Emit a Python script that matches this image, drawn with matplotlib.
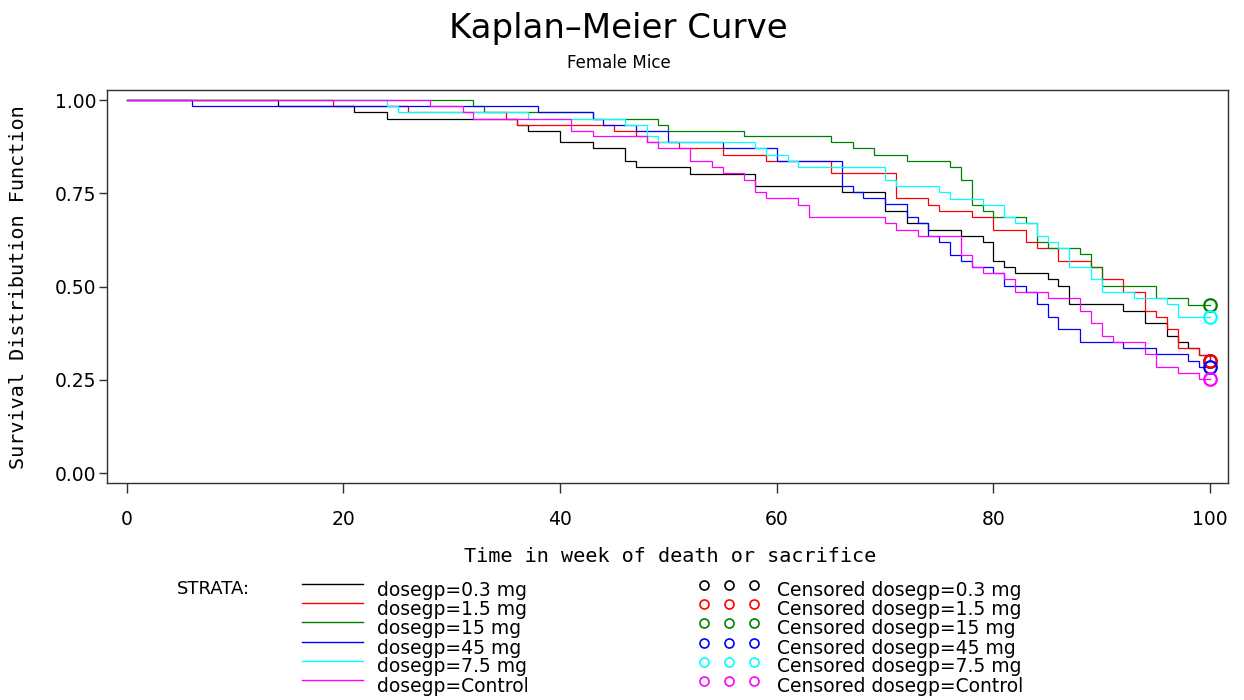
import matplotlib
matplotlib.use("Agg")
import matplotlib.pyplot as plt
from matplotlib.lines import Line2D

# ---------------- data ----------------
groups = ["dosegp=0.3 mg", "dosegp=1.5 mg", "dosegp=15 mg",
          "dosegp=45 mg", "dosegp=7.5 mg", "dosegp=Control"]
colors = ["#000000", "#ff0000", "#008000", "#0000ff", "#00ffff", "#ff00ff"]

t_03 = [0, 14, 21, 24, 36, 37, 40, 43, 46, 47, 52, 58, 66, 70, 72, 74, 77, 79,
        80, 81, 82, 85, 86, 87, 92, 94, 96, 97, 98, 99, 100]
s_03 = [1.0, 0.984, 0.967, 0.950, 0.934, 0.917, 0.887, 0.871, 0.837, 0.820,
        0.803, 0.770, 0.753, 0.703, 0.670, 0.653, 0.636, 0.620, 0.570, 0.553,
        0.536, 0.520, 0.503, 0.453, 0.436, 0.403, 0.369, 0.353, 0.335, 0.317,
        0.300]

t_15 = [0, 19, 26, 35, 36, 45, 47, 48, 51, 55, 59, 65, 71, 74, 75, 78, 80, 83,
        84, 86, 89, 90, 92, 94, 95, 96, 97, 99, 100]
s_15 = [1.0, 0.984, 0.967, 0.950, 0.934, 0.917, 0.904, 0.887, 0.871, 0.853,
        0.837, 0.804, 0.737, 0.720, 0.703, 0.687, 0.653, 0.620, 0.603, 0.570,
        0.553, 0.520, 0.487, 0.436, 0.420, 0.386, 0.335, 0.317, 0.300]

t_150 = [0, 32, 33, 43, 49, 50, 57, 65, 67, 69, 72, 76, 77, 78, 79, 80, 83, 84,
         85, 88, 89, 90, 95, 98, 100]
s_150 = [1.0, 0.984, 0.967, 0.950, 0.934, 0.917, 0.904, 0.887, 0.871, 0.853,
         0.837, 0.820, 0.786, 0.719, 0.703, 0.687, 0.670, 0.619, 0.603, 0.587,
         0.552, 0.503, 0.469, 0.451, 0.451]

t_45 = [0, 6, 38, 43, 44, 47, 50, 55, 60, 66, 67, 68, 70, 72, 73, 74, 75, 76,
        77, 78, 80, 81, 83, 84, 85, 86, 88, 92, 95, 98, 99, 100]
s_45 = [1.0, 0.984, 0.967, 0.950, 0.934, 0.917, 0.887, 0.871, 0.837, 0.770,
        0.753, 0.737, 0.721, 0.687, 0.670, 0.636, 0.620, 0.586, 0.570, 0.553,
        0.536, 0.503, 0.487, 0.453, 0.420, 0.386, 0.353, 0.335, 0.319, 0.302,
        0.284, 0.284]

t_75 = [0, 24, 25, 37, 46, 48, 49, 58, 59, 61, 62, 70, 71, 75, 76, 79, 81, 82,
        84, 85, 86, 87, 89, 90, 93, 96, 97, 100]
s_75 = [1.0, 0.984, 0.967, 0.950, 0.934, 0.904, 0.887, 0.871, 0.853, 0.837,
        0.820, 0.787, 0.770, 0.753, 0.736, 0.720, 0.687, 0.670, 0.636, 0.619,
        0.603, 0.552, 0.520, 0.487, 0.469, 0.453, 0.418, 0.418]

t_ctl = [0, 28, 31, 32, 41, 43, 48, 49, 52, 54, 55, 57, 58, 59, 62, 63, 70, 71,
         73, 77, 78, 79, 81, 82, 85, 88, 89, 90, 91, 94, 95, 97, 99, 100]
s_ctl = [1.0, 0.984, 0.967, 0.950, 0.917, 0.904, 0.887, 0.871, 0.837, 0.820,
         0.804, 0.786, 0.753, 0.737, 0.720, 0.686, 0.670, 0.653, 0.636, 0.586,
         0.553, 0.536, 0.520, 0.487, 0.469, 0.436, 0.403, 0.369, 0.353, 0.319,
         0.286, 0.269, 0.252, 0.252]

times = [t_03, t_15, t_150, t_45, t_75, t_ctl]
survs = [s_03, s_15, s_150, s_45, s_75, s_ctl]
censor_time = 100

x_ticks = [0, 20, 40, 60, 80, 100]
y_ticks = [0.0, 0.25, 0.50, 0.75, 1.00]
y_ticklabels = ["0.00", "0.25", "0.50", "0.75", "1.00"]

# ---------------- figure ----------------
W, H = 1244, 700
fig = plt.figure(figsize=(W / 100, H / 100), dpi=100)
fig.patch.set_facecolor("white")


def fx(px):
    return px / W


def fy(py):
    return 1 - py / H


ax = fig.add_axes([fx(106.7), fy(483.3), fx(1228) - fx(106.7), fy(90) - fy(483.3)])
ax.set_xlim(-1.85, 101.66)
ax.set_ylim(-0.0268, 1.0268)

for t, s, c in zip(times, survs, colors):
    ax.step(t, s, where="post", color=c, lw=0.9, solid_joinstyle="miter")
for s, c in zip(survs, colors):
    ax.plot([censor_time], [s[-1]], marker="o", ms=9, mfc="none", mec=c, mew=1.6,
            ls="none", clip_on=False)

for sp in ax.spines.values():
    sp.set_color("#303030")
    sp.set_linewidth(1.0)

ax.set_xticks(x_ticks)
ax.set_xticklabels([str(v) for v in x_ticks])
ax.set_yticks(y_ticks)
ax.set_yticklabels(y_ticklabels)
ax.tick_params(axis="x", direction="out", length=7, width=1, color="#303030",
               pad=12.5, labelsize=13.5)
ax.tick_params(axis="y", direction="out", length=6, width=1, color="#303030",
               pad=1.5, labelsize=13.5)
for lab in ax.get_xticklabels() + ax.get_yticklabels():
    lab.set_family("DejaVu Sans")

# titles
fig.text(fx(618), fy(38), "Kaplan–Meier Curve", ha="center", va="baseline",
         fontsize=24.5, family="DejaVu Sans")
fig.text(fx(619), fy(68.5), "Female Mice", ha="center", va="baseline",
         fontsize=12, family="DejaVu Sans")

# axis labels
fig.text(fx(670), fy(556), "Time in week of death or sacrifice", ha="center",
         va="center", fontsize=14.5, family="DejaVu Sans Mono")
fig.text(fx(19), fy(287), "Survival Distribution Function", ha="center",
         va="center", rotation=90, fontsize=14.5, family="DejaVu Sans Mono")

# legend
row_y = [584, 603, 622, 641.5, 660.5, 679.5]
fig.text(fx(177), fy(589.5), "STRATA:", ha="left", va="center", fontsize=13,
         family="DejaVu Sans")
for g, c, y in zip(groups, colors, row_y):
    fig.add_artist(Line2D([fx(302), fx(363)], [fy(y), fy(y)], color=c, lw=1.0,
                          transform=fig.transFigure))
    fig.text(fx(376.7), fy(y + 6.5), g, ha="left", va="center", fontsize=13.5,
             family="DejaVu Sans")
    fig.add_artist(Line2D([fx(704.3), fx(729.3), fx(754)], [fy(y + 1)] * 3,
                          color=c, ls="none", marker="o", ms=6.5, mfc="none",
                          mec=c, mew=1.2, transform=fig.transFigure))
    fig.text(fx(776.7), fy(y + 6.5), "Censored " + g, ha="left", va="center",
             fontsize=13.5, family="DejaVu Sans")

fig.savefig("out.png", dpi=100, facecolor="white")
